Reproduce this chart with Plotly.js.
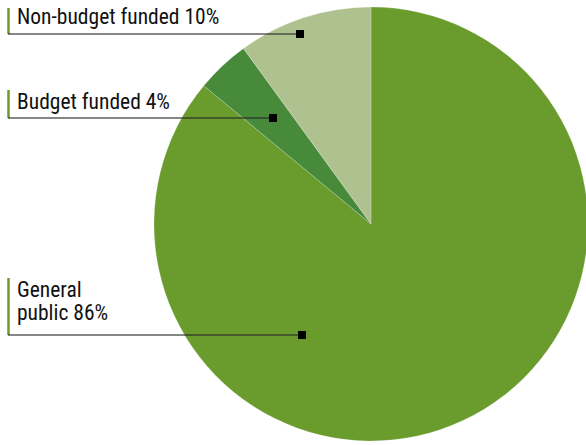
<!DOCTYPE html>
<html>
<head>
<meta charset="utf-8">
<script src="https://cdn.plot.ly/plotly-3.0.1.min.js"></script>
<style>
html,body{margin:0;padding:0;overflow:hidden;background:#fff;}
#chart{width:600px;height:445px;}
#chart svg text{font-stretch:condensed !important;}
</style>
</head>
<body>
<div id="chart"></div>
<script>
// Data
const categories = ["General public", "Budget funded", "Non-budget funded"];
const shares = [86, 4, 10];
const labelTexts = ["General<br>public 86%", "Budget funded 4%", "Non-budget funded 10%"];
const colors = ["#6a9b2d", "#468a3a", "#b0c190"];

// Layout (pixel geometry)
const W = 600, H = 445;
const cx = 371, cy = 224, R = 217;
const px = x => x / W;
const py = y => 1 - y / H;

// label callouts: first baseline, green bar top, line y, marker x
const callouts = [
  {baseline: 297, barTop: 278, lineY: 335, markX: 302},
  {baseline: 109, barTop: 90, lineY: 118, markX: 273},
  {baseline: 24, barTop: 8, lineY: 34, markX: 300}
];
const LINE_GAP = 23;
const FS = 21.5;

const FONT = "Roboto, 'Open Sans', sans-serif";

const trace = {
  type: "pie",
  labels: categories,
  values: shares,
  sort: false,
  direction: "clockwise",
  rotation: 0,
  textinfo: "none",
  hoverinfo: "label+percent",
  showlegend: false,
  marker: {colors: colors, line: {color: "rgba(255,255,255,0.35)", width: 0.6}},
  domain: {x: [px(cx - R), px(cx + R)], y: [py(cy + R), py(cy - R)]}
};

const shapes = [];
const annotations = [];
callouts.forEach((c, i) => {
  shapes.push({type: "line", xref: "paper", yref: "paper",
    x0: px(8.5), x1: px(8.5), y0: py(c.barTop), y1: py(c.lineY),
    line: {color: "#6a9b2d", width: 2.5}, layer: "above"});
  shapes.push({type: "line", xref: "paper", yref: "paper",
    x0: px(8), x1: px(c.markX), y0: py(c.lineY), y1: py(c.lineY),
    line: {color: "rgba(40,40,40,0.75)", width: 1.5}, layer: "above"});
  shapes.push({type: "rect", xref: "paper", yref: "paper",
    x0: px(c.markX - 4), x1: px(c.markX + 4), y0: py(c.lineY - 4), y1: py(c.lineY + 4),
    fillcolor: "#000", line: {width: 0}, layer: "above"});
  labelTexts[i].split("<br>").forEach((line, k) => {
    const top = c.baseline + k * LINE_GAP - FS - 1;
    annotations.push({xref: "paper", yref: "paper", x: px(15), y: py(top),
      xanchor: "left", yanchor: "top", align: "left", showarrow: false,
      text: line, font: {family: FONT, size: FS, weight: 400, color: "#111"}});
  });
});

const layout = {
  width: W, height: H,
  margin: {l: 0, r: 0, t: 0, b: 0},
  paper_bgcolor: "#fff",
  plot_bgcolor: "#fff",
  shapes: shapes,
  annotations: annotations
};

Plotly.newPlot("chart", [trace], layout, {displayModeBar: false, staticPlot: true});
</script>
</body>
</html>
